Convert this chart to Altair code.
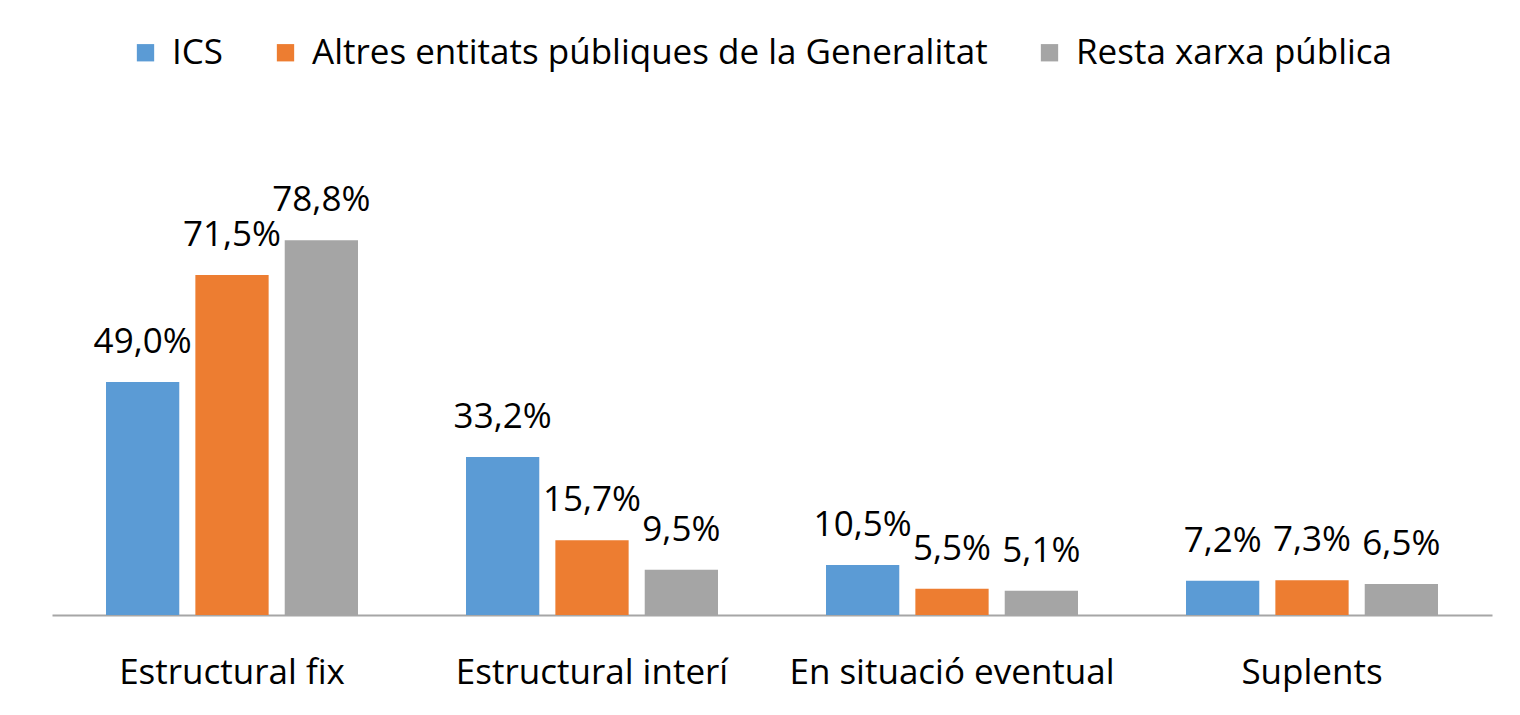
import altair as alt
import pandas as pd

categories = ["Estructural fix", "Estructural interí", "En situació eventual", "Suplents"]
series = ["ICS", "Altres entitats públiques de la Generalitat", "Resta xarxa pública"]
colors = ["#5B9BD5", "#ED7D31", "#A5A5A5"]
ics = [49.0, 33.2, 10.5, 7.2]
altres = [71.5, 15.7, 5.5, 7.3]
resta = [78.8, 9.5, 5.1, 6.5]

rows = []
for s, vals in zip(series, [ics, altres, resta]):
    for c, v in zip(categories, vals):
        rows.append({"cat": c, "serie": s, "val": v,
                     "label": f"{v:.1f}%".replace(".", ",")})
df = pd.DataFrame(rows)

FONT = "Open Sans"
FS = 35

x = alt.X("cat:N", sort=categories, title=None,
          scale=alt.Scale(paddingInner=0.3, paddingOuter=0.15),
          axis=alt.Axis(labelAngle=0, labelFontSize=FS, labelFont=FONT,
                        labelColor="#000000", labelPadding=40,
                        ticks=False, domainColor="#A6A6A6", domainWidth=2,
                        grid=False, labelLimit=1000))
xo = alt.XOffset("serie:N", sort=series,
                 scale=alt.Scale(paddingInner=0.18, paddingOuter=0.0))
y = alt.Y("val:Q", title=None, scale=alt.Scale(domain=[0, 90]),
          axis=None)

base = alt.Chart(df).encode(x=x, xOffset=xo, y=y)

bars = base.mark_bar().encode(
    color=alt.Color("serie:N", sort=series,
                    scale=alt.Scale(domain=series, range=colors),
                    legend=alt.Legend(title=None, orient="none",
                                      direction="horizontal",
                                      legendX=76, legendY=-152,
                                      symbolType="square", symbolSize=300,
                                      symbolStrokeWidth=0,
                                      labelFontSize=FS, labelFont=FONT,
                                      labelColor="#000000", labelLimit=1000,
                                      labelOffset=9, columnPadding=44))
)

labels = base.mark_text(baseline="middle", align="center", dy=-40,
                        fontSize=FS, font=FONT, color="#000000").encode(
    text="label:N"
)

chart = alt.layer(bars, labels).properties(
    width=1440, height=428,
    padding={"left": 44, "top": 179, "right": 20, "bottom": 90},
    background="white",
    autosize=alt.AutoSizeParams(type="none"),
).configure_view(stroke=None)

chart.save("out.html", embed_options={"renderer": "svg", "actions": False})
